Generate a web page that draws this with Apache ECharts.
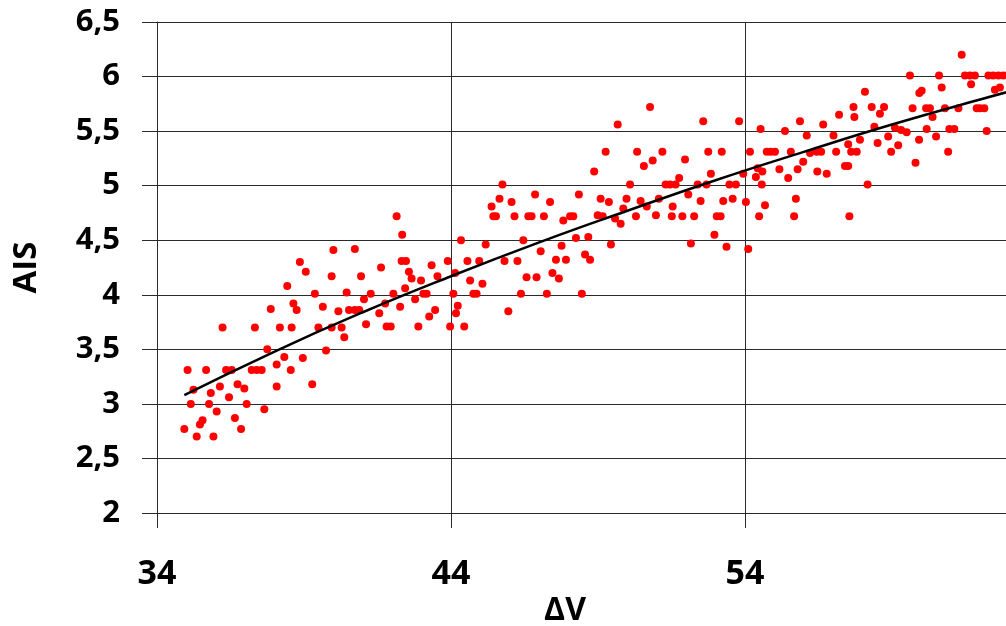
<!DOCTYPE html>
<html>
<head>
<meta charset="utf-8">
<script src="https://cdn.jsdelivr.net/npm/echarts@6/dist/echarts.min.js"></script>
<style>
html,body{margin:0;padding:0;background:#fff;}
#chart{width:1006px;height:626px;}
</style>
</head>
<body>
<div id="chart"></div>
<script>
// ΔV values of the scatter points
const dvValues = [
40.00,38.86,39.06,39.94,38.43,39.37,40.45,38.64,38.75,39.64,37.87,40.17,36.23,37.33,38.18,38.58,39.49,39.94,40.28,40.37,
37.75,39.75,38.33,38.96,38.07,35.04,35.67,36.35,36.54,37.22,37.39,37.56,38.55,39.28,38.07,35.24,36.74,36.97,36.14,35.83,
36.45,35.15,35.77,37.05,37.65,36.03,35.55,36.65,35.46,34.93,36.86,35.35,35.92,40.53,
45.75,45.65,46.06,46.86,45.38,45.44,45.53,46.16,46.63,46.74,42.15,42.34,44.34,45.18,46.46,40.73,42.32,42.47,43.89,44.56,
44.96,45.82,46.26,41.62,43.34,42.57,44.14,40.94,42.66,43.54,46.57,46.91,42.98,44.65,45.07,42.44,41.27,42.04,43.06,43.17,
44.08,44.76,44.87,46.38,41.04,42.78,41.76,44.23,42.27,40.73,40.88,43.46,41.56,44.17,43.26,45.95,41.11,41.81,41.95,42.89,
43.97,44.45,
50.77,49.67,52.58,53.80,49.26,50.33,51.19,52.75,53.21,54.17,50.86,50.56,51.96,48.87,52.84,53.94,51.76,50.09,51.30,51.45,
51.64,52.39,52.69,53.47,53.69,48.35,52.07,47.37,49.09,49.37,49.97,50.45,51.07,52.49,53.26,53.58,54.03,51.54,49.86,50.66,
47.16,47.82,48.05,48.16,48.99,49.16,49.58,50.29,50.97,51.51,51.87,52.27,53.04,53.17,49.77,48.25,48.67,49.44,52.96,52.16,
47.76,47.05,53.37,54.11,48.56,47.57,47.91,48.73,47.45,47.67,47.26,48.45,
61.37,59.61,60.60,61.48,61.65,61.82,62.28,62.44,62.62,62.79,61.69,60.69,62.67,62.50,60.01,59.93,58.08,57.69,58.31,58.73,
58.59,59.70,60.16,60.29,60.80,61.26,61.88,61.99,62.14,60.38,57.20,57.72,55.87,56.66,58.40,59.10,54.53,55.36,59.31,59.50,
60.18,60.95,61.12,62.22,56.10,57.01,58.87,60.50,59.92,57.91,58.51,59.21,57.51,54.74,54.87,55.02,55.56,56.21,56.44,56.59,
57.10,57.61,57.80,58.97,60.91,55.98,59.80,57.40,57.51,54.43,54.59,55.17,55.79,56.46,56.78,55.47,54.37,54.57,58.17,55.73,
54.68,54.48,55.67,57.55
];
// AIS values of the scatter points
const aisValues = [
4.41,4.30,4.21,4.17,4.08,4.01,4.02,3.92,3.86,3.89,3.87,3.85,3.70,3.70,3.70,3.70,3.70,3.70,3.70,3.61,
3.50,3.49,3.43,3.42,3.36,3.31,3.31,3.31,3.31,3.31,3.31,3.31,3.31,3.18,3.16,3.13,3.18,3.14,3.16,3.10,
3.06,3.00,3.00,3.00,2.95,2.93,2.85,2.87,2.81,2.77,2.77,2.70,2.70,3.86,
5.01,4.88,4.85,4.92,4.81,4.72,4.72,4.72,4.72,4.72,4.72,4.55,4.50,4.46,4.50,4.42,4.31,4.31,4.31,4.31,
4.31,4.31,4.31,4.25,4.27,4.21,4.20,4.17,4.15,4.17,4.16,4.16,4.13,4.13,4.10,4.06,4.01,4.01,4.01,4.01,
4.01,4.01,4.01,4.01,3.96,3.96,3.92,3.90,3.89,3.86,3.86,3.86,3.83,3.83,3.80,3.85,3.73,3.71,3.71,3.71,
3.71,3.71,
5.72,5.56,5.59,5.59,5.31,5.31,5.31,5.31,5.31,5.31,5.23,5.18,5.24,5.13,5.11,5.11,5.07,5.01,5.01,5.01,
5.01,5.01,5.01,5.01,5.01,4.92,4.92,4.85,4.88,4.85,4.88,4.86,4.88,4.86,4.86,4.88,4.85,4.81,4.79,4.81,
4.72,4.68,4.72,4.72,4.73,4.72,4.70,4.72,4.73,4.72,4.72,4.72,4.72,4.72,4.65,4.52,4.53,4.46,4.55,4.47,
4.45,4.40,4.44,4.42,4.37,4.32,4.32,4.32,4.20,4.15,4.01,4.01,
6.20,6.01,6.01,6.01,6.01,6.01,6.01,6.01,6.01,6.01,5.93,5.90,5.90,5.88,5.87,5.85,5.86,5.72,5.72,5.72,
5.66,5.71,5.71,5.71,5.71,5.71,5.71,5.71,5.71,5.63,5.65,5.63,5.59,5.56,5.54,5.53,5.52,5.50,5.51,5.49,
5.52,5.52,5.52,5.50,5.46,5.46,5.45,5.45,5.42,5.42,5.39,5.37,5.38,5.31,5.31,5.31,5.31,5.30,5.31,5.31,
5.31,5.31,5.31,5.31,5.31,5.22,5.21,5.18,5.18,5.16,5.13,5.15,5.15,5.13,5.11,5.07,5.08,5.01,5.01,4.88,
4.82,4.72,4.72,4.72
];
// Trend line
const trendX = [34.93, 38, 41, 44, 47, 50, 53, 56, 59, 62, 63.5];
const trendY = [3.08, 3.48, 3.84, 4.17, 4.48, 4.77, 5.05, 5.31, 5.56, 5.79, 5.90];
// Axis ticks
const xTicks = [34, 44, 54, 64];
const yTicks = [2, 2.5, 3, 3.5, 4, 4.5, 5, 5.5, 6, 6.5];
const xTitle = 'ΔV';
const yTitle = 'AIS';

const scatterData = dvValues.map((x, i) => [x, aisValues[i]]);
const trendData = trendX.map((x, i) => [x, trendY[i]]);

const FONT = '"Open Sans", Lato, sans-serif';
const lineCol = '#2a2a2a';

const chart = echarts.init(document.getElementById('chart'), null, {renderer: 'canvas'});
chart.setOption({
  animation: false,
  backgroundColor: '#ffffff',
  grid: {left: 157, top: 22, right: -33, bottom: 113, containLabel: false, outerBoundsMode: 'none'},
  xAxis: {
    type: 'value',
    min: xTicks[0],
    max: xTicks[xTicks.length - 1],
    interval: xTicks[1] - xTicks[0],
    axisLine: {show: true, onZero: false, lineStyle: {color: lineCol, width: 1}},
    axisTick: {show: true, length: 15, inside: false, lineStyle: {color: lineCol, width: 1}},
    splitLine: {show: true, lineStyle: {color: lineCol, width: 1}},
    axisLabel: {show: true, margin: 44, color: '#000', fontSize: 34, fontWeight: 'bold', fontFamily: FONT,
      hideOverlap: false}
  },
  yAxis: {
    type: 'value',
    min: yTicks[0],
    max: yTicks[yTicks.length - 1],
    interval: yTicks[1] - yTicks[0],
    name: yTitle,
    nameLocation: 'middle',
    nameGap: 114,
    nameRotate: 90,
    nameTextStyle: {color: '#000', fontSize: 33, fontWeight: 'bold', fontFamily: FONT},
    axisLine: {show: true, onZero: false, lineStyle: {color: lineCol, width: 1}},
    axisTick: {show: true, length: 15, inside: false, lineStyle: {color: lineCol, width: 1}},
    splitLine: {show: true, lineStyle: {color: lineCol, width: 1}},
    axisLabel: {
      show: true, margin: 37, color: '#000', fontSize: 31, fontWeight: 'bold', fontFamily: FONT,
      formatter: v => String(v).replace('.', ',')
    }
  },
  graphic: [{
    type: 'text',
    x: 565, y: 611,
    style: {text: xTitle, fill: '#000', font: 'bold 32px ' + FONT, textAlign: 'center', textVerticalAlign: 'middle'}
  }],
  series: [
    {
      type: 'scatter',
      data: scatterData,
      symbol: 'circle',
      symbolSize: 8,
      itemStyle: {color: '#ff0000', opacity: 1},
      z: 2
    },
    {
      type: 'line',
      data: trendData,
      smooth: true,
      showSymbol: false,
      lineStyle: {color: '#000', width: 2.5},
      z: 3
    }
  ]
});
</script>
</body>
</html>
